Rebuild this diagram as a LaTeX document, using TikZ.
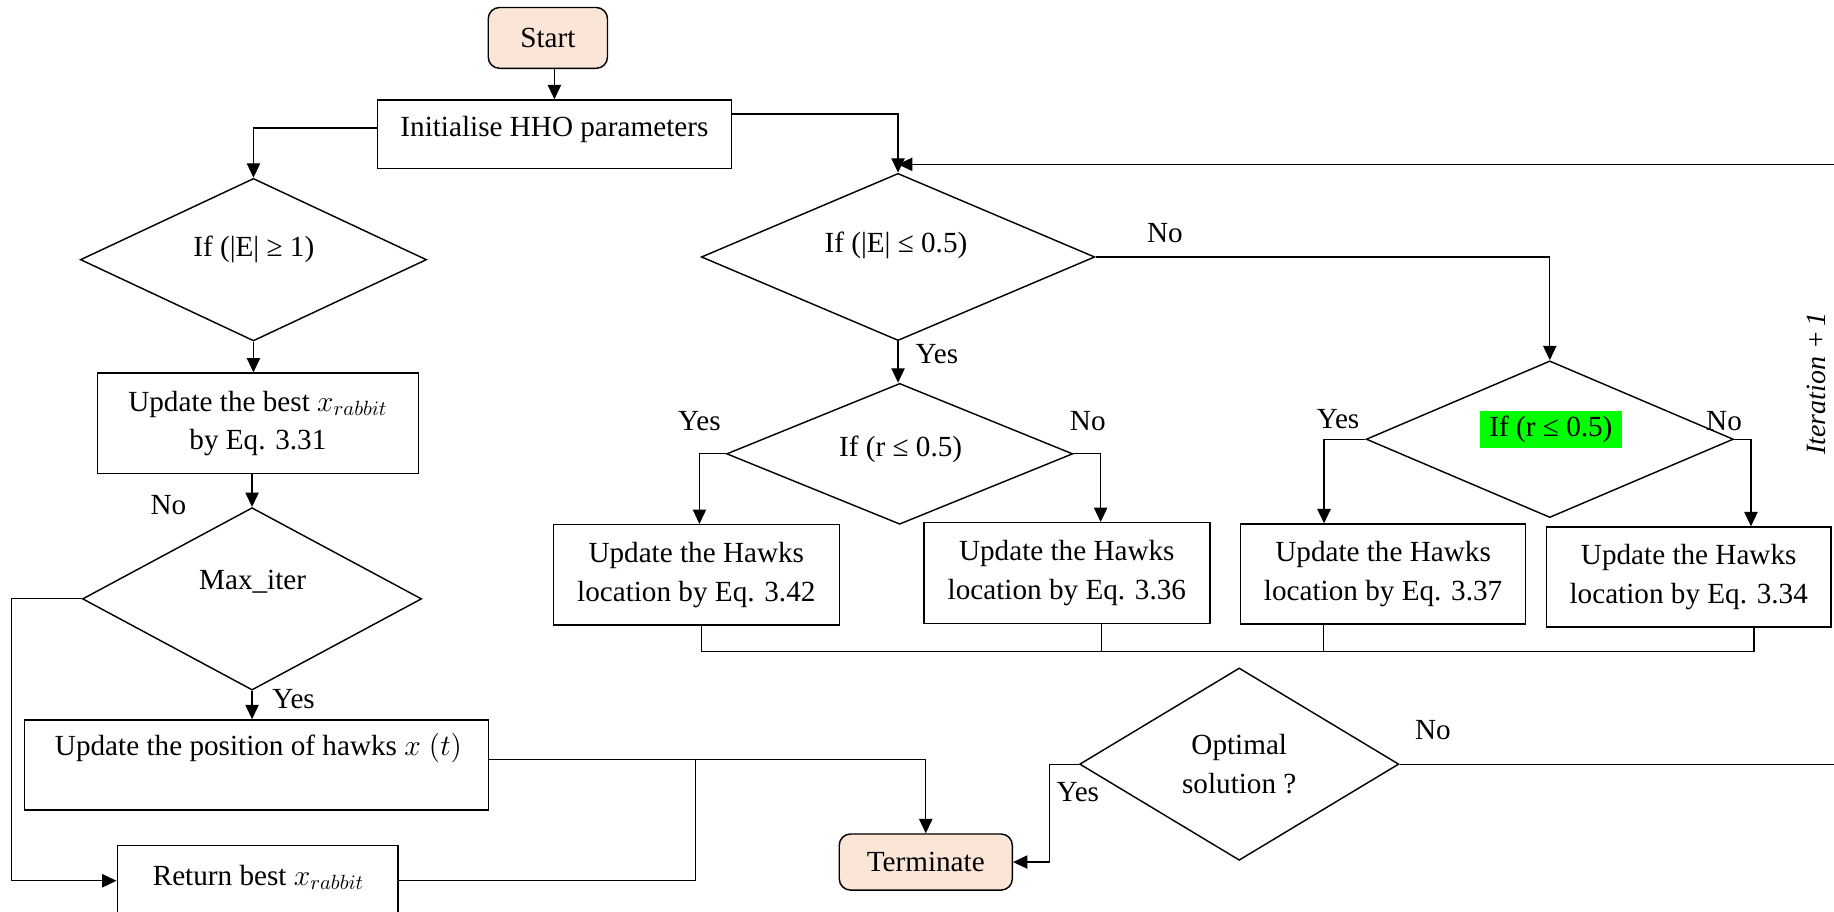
\documentclass[tikz,border=0pt]{standalone}
\usepackage{fontspec}
\setmainfont{Liberation Serif}
\usetikzlibrary{shapes.geometric,arrows.meta}
\definecolor{peach}{HTML}{FBE5D6}
\definecolor{hlgreen}{HTML}{00FF00}
\begin{document}
\begin{tikzpicture}[x=0.02cm,y=-0.02cm,
  every node/.style={font=\fontsize{14.2}{18.7}\selectfont, inner sep=0pt, align=center},
  box/.style={draw, line width=0.7pt, rectangle},
  term/.style={draw, line width=0.7pt, rectangle, rounded corners=5.5pt, fill=peach},
  dia/.style={draw, line width=0.7pt, diamond},
  flow/.style={line width=0.6pt, -{Triangle[length=7pt,width=6.5pt]}},
  wire/.style={line width=0.6pt}]
\useasboundingbox (0,0) rectangle (1568,779);

% ---------- left column ----------
\node[term, minimum width=2.04cm, minimum height=1.04cm] (start) at (468.4,32.4) {Start};
\node[box, minimum width=6.05cm, minimum height=1.17cm] (init) at (474,114.7) {};
\node (initT) at (474,110.5) {Initialise HHO parameters};

\node[dia, minimum width=5.92cm, minimum height=2.78cm] (d1) at (216.7,222) {};
\node (d1T) at (217,213.5) {If (|E| ≥ 1)};

\node[box, minimum width=5.49cm, minimum height=1.72cm] (b31) at (220.5,362)
  {Update the best $x_{rabbit}$\\by Eq. 3.31};

\node[dia, minimum width=5.80cm, minimum height=3.12cm] (d3) at (215.5,512) {};
\node (d3T) at (216,497) {Max\_iter};

\node[box, minimum width=7.93cm, minimum height=1.54cm] (pos) at (219.2,654) {};
\node (posT) at (221,640) {Update the position of hawks $x\;(t)$};

\node[box, minimum width=4.80cm, minimum height=1.20cm] (ret) at (220.2,753) {};
\node (retT) at (221,750) {Return best $x_{rabbit}$};

\node[term, minimum width=2.96cm, minimum height=0.96cm] (term) at (791.5,737) {Terminate};

% ---------- right part ----------
\node[dia, minimum width=6.73cm, minimum height=2.86cm] (d2) at (767.8,219.7) {};
\node (d2T) at (766,210) {If (|E| ≤ 0.5)};

\node[dia, minimum width=5.92cm, minimum height=2.41cm] (d4) at (769.2,388) {};
\node (d4T) at (770,384) {If (r ≤ 0.5)};

\node[dia, minimum width=6.28cm, minimum height=2.68cm] (d5) at (1325,375.5) {};
\node[fill=hlgreen, minimum width=2.44cm, minimum height=0.64cm] (d5T) at (1326,367) {If (r ≤ 0.5)};

\node[box, minimum width=4.89cm, minimum height=1.72cm] (a) at (595.3,491.5)
  {Update the Hawks\\location by Eq. 3.42};
\node[box, minimum width=4.89cm, minimum height=1.72cm] (b) at (912.1,489.9)
  {Update the Hawks\\location by Eq. 3.36};
\node[box, minimum width=4.87cm, minimum height=1.71cm] (c) at (1182.5,490.8)
  {Update the Hawks\\location by Eq. 3.37};
\node[box, minimum width=4.87cm, minimum height=1.71cm] (dd) at (1443.8,493.3)
  {Update the Hawks\\location by Eq. 3.34};

\node[dia, minimum width=5.46cm, minimum height=3.29cm] (d6) at (1059.5,653.3)
  {Optimal\\solution ?};

\node[rotate=90, font=\fontsize{13.6}{16}\selectfont\itshape] (iter) at (1553,328) {Iteration +\,1};

% ---------- branch labels ----------
\node (noD3) at (144,432) {No};
\node (yesD3) at (251,598) {Yes};
\node (noD2) at (996,199) {No};
\node (yesD2) at (801,303) {Yes};
\node (yesD4) at (598,360) {Yes};
\node (noD4) at (930,360) {No};
\node (yesD5) at (1144,358) {Yes};
\node (noD5) at (1474,360) {No};
\node (noD6) at (1225,624) {No};
\node (yesD6) at (921.5,677) {Yes};

% ---------- connectors ----------
\coordinate (join) at (594.5,649.5);
\coordinate (bus) at (0,557);
\coordinate (loopR) at (1590,653.3);
\coordinate (loopT) at (1590,140.5);

\draw[flow] (start.south -| init.north) -- (init.north);
\draw[flow] (init.west |- 0,109.5) -| (d1.north);
\draw[flow] (init.east |- 0,97.5) -| (d2.north);

\draw[flow] (d1.south) -- (d1.south |- b31.north);
\draw[flow] (d3.north |- b31.south) -- (d3.north);
\draw[flow] (d3.west) -- (d3.west -| 10,0) |- (ret.west);
\draw[flow] (d3.south) -- (d3.south |- pos.north);
\draw[flow] (pos.east |- join) -| (term.north);
\draw[wire] (ret.east) -| (join);

\draw[flow] (d2.east) -| (d5.north);
\draw[flow] (d2.south) -- (d2.south |- d4.north);
\draw[flow] (d4.west) -| (a.north -| 598,0);
\draw[flow] (d4.east) -| (b.north -| 941,0);
\draw[flow] (d5.west) -| (c.north -| 1132,0);
\draw[flow] (d5.east) -| (dd.north -| 1497,0);

\draw[wire] (a.south -| 599.5,0) -- (bus -| 599.5,0) -- (bus -| 1499.5,0) -- (dd.south -| 1499.5,0);
\draw[wire] (b.south -| 942,0) -- (bus -| 942,0);
\draw[wire] (c.south -| 1131.5,0) -- (bus -| 1131.5,0);

\draw[flow] (d6.west) -- (d6.west -| 897,0) |- (term.east);
\draw[flow] (d6.east) -- (loopR) -- (loopT) -- (d2.north |- loopT);
\end{tikzpicture}
\end{document}
